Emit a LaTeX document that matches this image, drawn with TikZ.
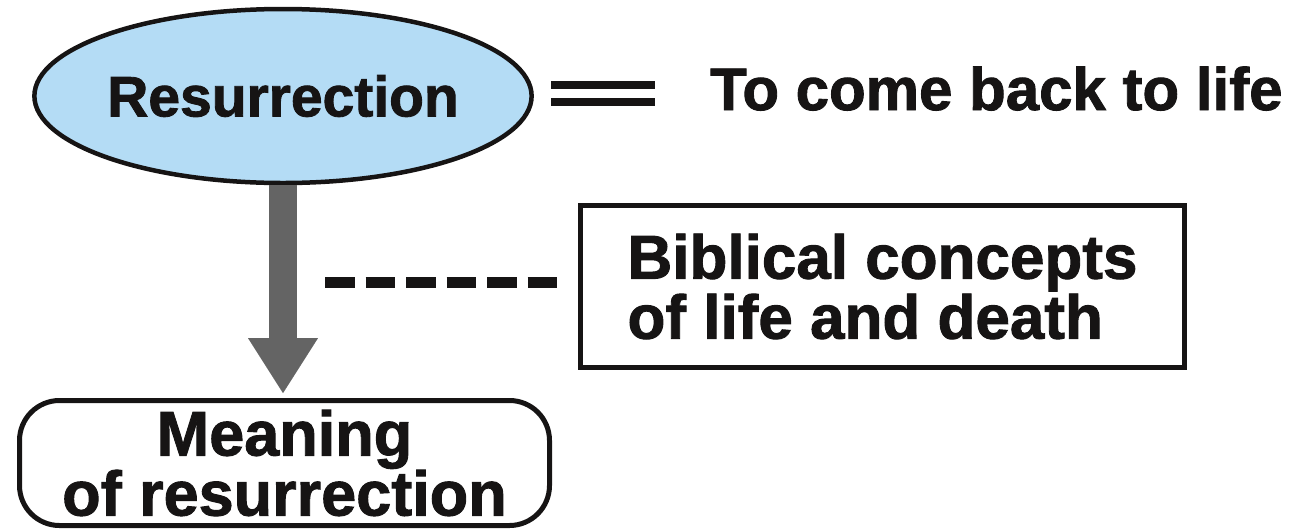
\documentclass[tikz,border=0pt]{standalone}
\usepackage{fontspec}
\setmainfont{Liberation Sans}[BoldFeatures={FakeBold=1.5}]
\usepackage{tikz}
\usetikzlibrary{shapes.geometric,arrows.meta,positioning}
\definecolor{skyblue}{RGB}{180,220,245}
\definecolor{arrowgray}{RGB}{100,100,100}
\definecolor{ink}{RGB}{22,20,20}
\tikzstyle{oval} = [ellipse, draw=ink, line width=4.5pt, fill=skyblue, minimum width=390pt, minimum height=174pt, inner sep=0pt, text=ink, font=\bfseries\fontsize{57}{57}\selectfont]
\tikzstyle{word} = [inner sep=0pt, text=ink, font=\bfseries\fontsize{60}{60}\selectfont]
\tikzstyle{rect} = [rectangle, draw=ink, line width=5pt, minimum width=604pt, minimum height=162pt, inner sep=0pt, align=left, text=ink, font=\bfseries\fontsize{62}{60}\selectfont]
\tikzstyle{rbox} = [rectangle, draw=ink, rounded corners=40pt, line width=5pt, minimum width=530pt, minimum height=125pt, inner sep=0pt, align=center, text=ink, font=\bfseries\fontsize{63}{60}\selectfont]
\tikzstyle{down} = [draw=arrowgray, line width=28pt, -{Triangle[width=70pt,length=55pt,line width=0.01pt]}, shorten >=5pt]
\tikzstyle{dashes} = [draw=ink, line width=11pt, dash pattern=on 29.5pt off 11pt]
\tikzstyle{equal} = [draw=ink, line width=8pt, double=white, double distance=9pt]

\begin{document}
\begin{tikzpicture}[x=1pt, y=-1pt]
\useasboundingbox (0,0) rectangle (1293,531);
\node(R)[oval] at (283,96) {Resurrection};
\node(T)[word, anchor=base west] at (710,110) {To come back to life};
\node(B)[rect] at (882.5,286.5) {Biblical concepts\\of life and death};
\node(M)[rbox] at (284.5,463) {Meaning\\of resurrection};
\coordinate(E1) at (551,93.5);
\coordinate(E2) at (655,93.5);
\coordinate(D) at (325,282);
\draw[equal] (E1)--(E2);
\draw[down] (R.south)--(R.south |- M.north);
\draw[dashes, shorten >=21pt] (D)--(D -| B.west);
\end{tikzpicture}
\end{document}
